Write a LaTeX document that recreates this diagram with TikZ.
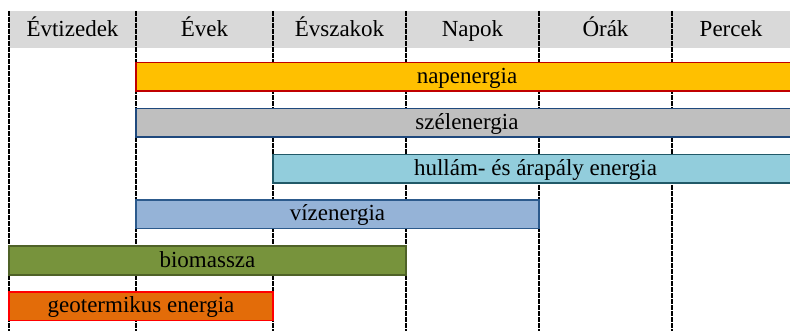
\documentclass[tikz,border=0pt]{standalone}
\usepackage{fontspec}
\setmainfont{Liberation Serif}
\definecolor{fejszurke}{HTML}{D9D9D9}
\definecolor{napsarga}{HTML}{FFC000}
\definecolor{napkeret}{HTML}{C00000}
\definecolor{szelszurke}{HTML}{BFBFBF}
\definecolor{szelkeret}{HTML}{1F497D}
\definecolor{hullamkek}{HTML}{92CDDC}
\definecolor{hullamkeret}{HTML}{215968}
\definecolor{vizkek}{HTML}{95B3D7}
\definecolor{vizkeret}{HTML}{2C5A8C}
\definecolor{biozold}{HTML}{77933C}
\definecolor{biokeret}{HTML}{4F6228}
\definecolor{geonarancs}{HTML}{E36C09}
\definecolor{geokeret}{HTML}{FF0000}
\begin{document}
\begin{tikzpicture}[x=1pt, y=-1pt, font=\fontsize{23}{27}\selectfont,
		fej/.style={fill=fejszurke, minimum height=37pt, inner sep=0pt, text height=17.5pt, text depth=2.5pt},
		sav/.style={draw, line width=1.5pt, minimum height=28.5pt, inner sep=0pt, text height=16pt, text depth=3pt}]
	\useasboundingbox (0,0) rectangle (790,331);
	\node[fej, minimum width=127pt] (evtizedek) at (72.5, 29.5) {Évtizedek};
	\node[fej, minimum width=137pt] (evek) at (204.5, 29.5) {Évek};
	\node[fej, minimum width=133pt] (evszakok) at (339.5, 29.5) {Évszakok};
	\node[fej, minimum width=133pt] (napok) at (472.5, 29.5) {Napok};
	\node[fej, minimum width=133pt] (orak) at (605.5, 29.5) {Órák};
	\node[fej, minimum width=118pt] (percek) at (731, 29.5) {Percek};
	
	\foreach \x in {9, 136, 273, 406, 539, 672}
		\draw[line width=2pt, dash pattern=on 5pt off 1pt] (\x, 11) -- (\x, 331);
	
	\node[sav, fill=napsarga, draw=napkeret, minimum width=662pt] (nap) at (467, 77) {napenergia};
	\node[sav, fill=szelszurke, draw=szelkeret, minimum width=662pt] (szel) at (467, 123) {szélenergia};
	\node[sav, fill=hullamkek, draw=hullamkeret, minimum width=525pt] (hullam) at (535.5, 169) {hullám- és árapály energia};
	\node[sav, fill=vizkek, draw=vizkeret, minimum width=403pt] (viz) at (337.5, 214.5) {vízenergia};
	\node[sav, fill=biozold, draw=biokeret, minimum width=397pt] (bio) at (207.5, 260.5) {biomassza};
	\node[sav, fill=geonarancs, draw=geokeret, minimum width=264pt] (geo) at (141, 306) {geotermikus energia};
\end{tikzpicture}
\end{document}
